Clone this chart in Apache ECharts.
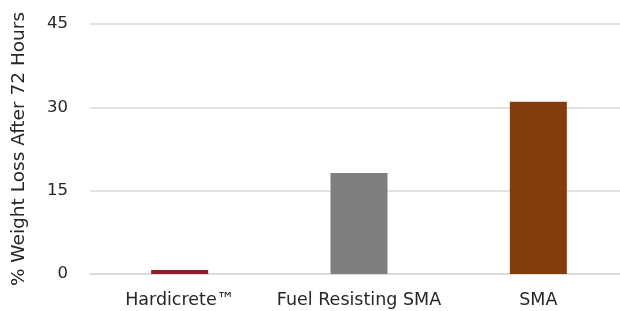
<!DOCTYPE html>
<html><head><meta charset="utf-8">
<script src="https://cdn.jsdelivr.net/npm/echarts@6/dist/echarts.min.js"></script>
<style>html,body{margin:0;padding:0;background:#fff}#c{width:620px;height:311px}</style>
</head><body><div id="c"></div>
<script>
const categories = ["Hardicrete™", "Fuel Resisting SMA", "SMA"];
const values = [0.7, 18.2, 31.0];
const barColors = ["#8e1b2d", "#7f7f7f", "#843c0c"];
const yTicks = [0, 15, 30, 45];
const yName = "% Weight Loss After 72 Hours";

const chart = echarts.init(document.getElementById('c'));
const font = 'DejaVu Sans';
chart.setOption({
  animation: false,
  grid: { left: 90, right: -8, top: 24, bottom: 37, outerBoundsMode: 'none', containLabel: false },
  xAxis: {
    type: 'category', data: categories,
    axisLine: { show: true, lineStyle: { color: '#d9d9d9', width: 1.5 } },
    axisTick: { show: false },
    axisLabel: { color: '#262626', fontSize: 17.5, fontFamily: font, margin: 17, interval: 0, hideOverlap: false }
  },
  yAxis: {
    type: 'value', min: 0, max: 45, interval: 15,
    name: yName, nameLocation: 'middle', nameGap: 61, nameRotate: 90,
    nameTextStyle: { color: '#262626', fontSize: 18.5, fontFamily: font },
    axisLine: { show: false }, axisTick: { show: false },
    axisLabel: { color: '#262626', fontSize: 16.5, fontFamily: font, margin: 22,
      formatter: v => yTicks.includes(v) ? String(v) : '' },
    splitLine: { lineStyle: { color: '#d9d9d9', width: 1.5 } }
  },
  series: [{
    type: 'bar', barWidth: 57,
    data: values.map((v, i) => ({ value: v, itemStyle: { color: barColors[i] } }))
  }]
});
</script></body></html>
